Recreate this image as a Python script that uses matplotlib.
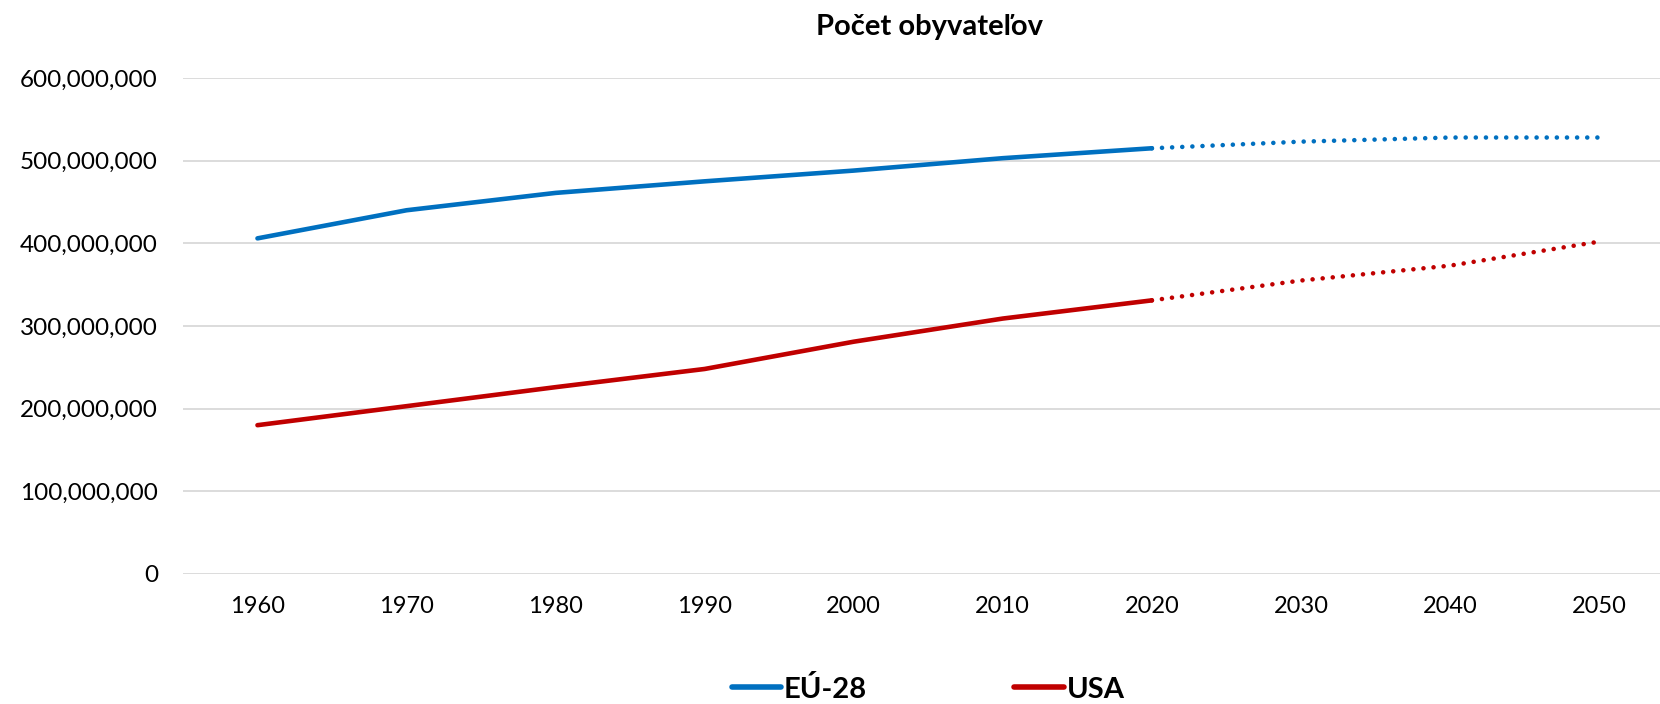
import matplotlib.pyplot as plt
from matplotlib.ticker import FuncFormatter

years = ["1960", "1970", "1980", "1990", "2000", "2010", "2020", "2030", "2040", "2050"]
eu28 = [406e6, 440e6, 461e6, 475e6, 488e6, 503e6, 515e6, 523e6, 528e6, 528e6]
usa = [180e6, 203e6, 226e6, 248e6, 281e6, 309e6, 331e6, 355e6, 373e6, 402e6]
n_actual = 7  # 1960..2020 measured, rest is projection

blue = "#0070C0"
red = "#C00000"

plt.rcParams["font.family"] = ["Lato", "DejaVu Sans"]

fig = plt.figure(figsize=(16.6, 7.04), dpi=100)
ax = fig.add_axes([0.1102, 0.1847, 0.898, 0.7045])

idx = list(range(len(years)))
last = n_actual - 1

for values, color, label in [(eu28, blue, "EÚ-28"), (usa, red, "USA")]:
    ax.plot(idx[:n_actual], values[:n_actual], color=color, lw=3.3,
            solid_capstyle="round", label=label)
    ax.plot(idx[last:], values[last:], color=color, lw=3.3,
            linestyle=(0, (0.01, 2.2)), dash_capstyle="round")

ax.set_xlim(-0.5, len(years) - 0.5)
ax.set_ylim(0, 600e6)
ax.set_yticks(range(0, 600000001, 100000000))
ax.yaxis.set_major_formatter(FuncFormatter(lambda v, p: f"{int(v):,}"))
ax.set_xticks(idx)
ax.set_xticklabels(years)

ax.grid(axis="y", color="#D9D9D9", lw=1.3)
ax.set_axisbelow(True)
for s in ax.spines.values():
    s.set_visible(False)
ax.tick_params(axis="y", length=0, pad=18, labelsize=17.5)
ax.tick_params(axis="x", length=0, pad=16, labelsize=17)

fig.text(0.560, 0.962, "Počet obyvateľov", ha="center", va="center",
         fontsize=21, fontweight="bold")

leg = ax.legend(loc="center", bbox_to_anchor=(0.5, -0.232), ncol=2,
                frameon=False, prop={"weight": "bold", "size": 21},
                handlelength=1.7, handletextpad=0.1, columnspacing=5.05,
                borderpad=0.1)
for h in leg.get_lines():
    h.set_linewidth(4)

fig.savefig("out.png", dpi=100)
